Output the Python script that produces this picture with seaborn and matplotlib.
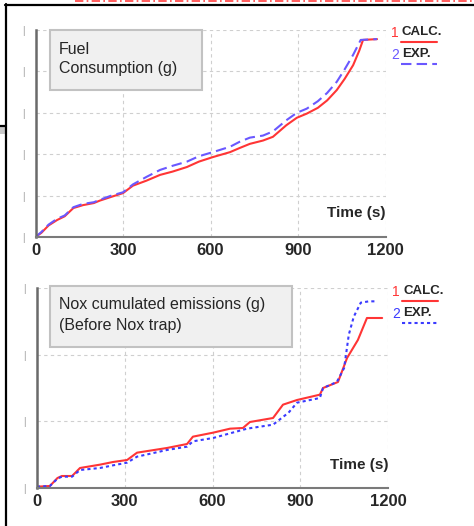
import matplotlib
matplotlib.use("Agg")
import matplotlib.pyplot as plt
from matplotlib.lines import Line2D
from matplotlib.patches import Rectangle
import seaborn as sns
import pandas as pd

# ---------------- data ----------------
fuel_calc_t = [0, 20, 45, 74, 100, 130, 163, 200, 221, 260, 300, 334, 380, 427, 470, 519, 560, 608,
               667, 700, 735, 780, 814, 860, 896, 930, 968, 1000, 1033, 1060, 1089, 1110, 1123, 1171]
fuel_calc_y = [0, 0.10, 0.28, 0.41, 0.50, 0.70, 0.77, 0.82, 0.88, 0.97, 1.06, 1.24, 1.36, 1.50, 1.58, 1.69, 1.82, 1.93,
               2.05, 2.15, 2.25, 2.33, 2.42, 2.70, 2.88, 2.98, 3.12, 3.30, 3.55, 3.82, 4.15, 4.50, 4.76, 4.78]
fuel_exp_t = [0, 20, 45, 74, 100, 130, 163, 200, 221, 260, 300, 334, 380, 427, 470, 519, 560, 608,
              667, 700, 735, 780, 814, 860, 896, 930, 968, 1000, 1033, 1060, 1089, 1115, 1171]
fuel_exp_y = [0, 0.12, 0.30, 0.44, 0.52, 0.72, 0.80, 0.84, 0.90, 1.00, 1.08, 1.27, 1.45, 1.62, 1.72, 1.82, 1.95, 2.05,
              2.18, 2.30, 2.40, 2.45, 2.55, 2.82, 3.00, 3.10, 3.28, 3.48, 3.75, 4.05, 4.40, 4.76, 4.78]

nox_calc_t = [0, 44, 70, 85, 120, 147, 215, 260, 308, 342, 444, 513, 533, 602, 660, 704, 728, 807,
              841, 889, 967, 978, 1029, 1060, 1097, 1128, 1180]
nox_calc_y = [0.02, 0.03, 0.15, 0.18, 0.18, 0.30, 0.35, 0.39, 0.42, 0.53, 0.60, 0.66, 0.77, 0.83, 0.89, 0.90, 0.99, 1.05,
              1.25, 1.32, 1.40, 1.50, 1.59, 1.95, 2.22, 2.55, 2.55]
nox_exp_t = [0, 44, 70, 85, 120, 147, 215, 260, 308, 342, 444, 513, 533, 602, 660, 718, 807, 860,
             889, 967, 978, 1025, 1050, 1066, 1083, 1107, 1135, 1163]
nox_exp_y = [0.02, 0.03, 0.14, 0.17, 0.17, 0.27, 0.30, 0.34, 0.38, 0.47, 0.57, 0.62, 0.70, 0.75, 0.82, 0.89, 0.95, 1.13,
             1.28, 1.35, 1.50, 1.59, 1.80, 2.30, 2.57, 2.78, 2.80, 2.80]

x_ticks = [0, 300, 600, 900, 1200]
x_labels = ["0", "300", "600", "900", "1200"]
series_labels = ["CALC.", "EXP."]
titles = ["Fuel\nConsumption (g)", "Nox cumulated emissions (g)\n(Before Nox trap)"]
xlabel = "Time (s)"

# ---------------- style ----------------
sns.set_style("white")
plt.rcParams["font.family"] = ["Liberation Sans", "DejaVu Sans"]

W, H = 474, 526
fig = plt.figure(figsize=(W / 100, H / 100), dpi=100)


def fx(x):
    return x / W


def fy(y):
    return 1 - y / H


RED = "#ff3535"
BLUE1 = "#6a58ff"
BLUE2 = "#3b3bff"


def make_axes(l, r, t, b):
    return fig.add_axes([fx(l), fy(b), fx(r) - fx(l), fy(t) - fy(b)])


ax1 = make_axes(35.5, 385.5, 30, 237)
ax2 = make_axes(37, 388, 288, 488)

df1 = pd.concat([
    pd.DataFrame({"t": fuel_calc_t, "v": fuel_calc_y, "s": series_labels[0]}),
    pd.DataFrame({"t": fuel_exp_t, "v": fuel_exp_y, "s": series_labels[1]}),
])
df2 = pd.concat([
    pd.DataFrame({"t": nox_calc_t, "v": nox_calc_y, "s": series_labels[0]}),
    pd.DataFrame({"t": nox_exp_t, "v": nox_exp_y, "s": series_labels[1]}),
])

sns.lineplot(data=df1, x="t", y="v", hue="s", style="s",
             palette={series_labels[0]: RED, series_labels[1]: BLUE1},
             dashes={series_labels[0]: "", series_labels[1]: (5, 2.5)},
             linewidth=1.5, ax=ax1, legend=False, sort=False, estimator=None)
sns.lineplot(data=df2, x="t", y="v", hue="s", style="s",
             palette={series_labels[0]: RED, series_labels[1]: BLUE2},
             dashes={series_labels[0]: "", series_labels[1]: (1.5, 1.5)},
             linewidth=1.5, ax=ax2, legend=False, sort=False, estimator=None)

for ax, ymax in [(ax1, 5), (ax2, 3)]:
    ax.set_xlim(0, 1200)
    ax.set_ylim(0, ymax)
    ax.set_xticks(x_ticks)
    ax.set_xticklabels(x_labels, fontsize=12, fontweight="bold")
    ax.set_yticks(range(0, ymax + 1))
    ax.set_yticklabels(["|"] * (ymax + 1), fontsize=7, color="#9a9a9a")
    ax.tick_params(axis="y", length=0, pad=8)
    ax.tick_params(axis="x", length=0, pad=4)
    ax.set_xlabel("")
    ax.set_ylabel("")
    ax.grid(True, color="#cfcfcf", linestyle=(0, (3, 3)), linewidth=0.8)
    for sp in ["top", "right"]:
        ax.spines[sp].set_visible(False)
    ax.spines["left"].set_color("#6a6a6a")
    ax.spines["left"].set_linewidth(1.8)
    ax.spines["bottom"].set_color("#7a7a7a")
    ax.spines["bottom"].set_linewidth(1.5)
    ax.set_axisbelow(True)
    ax.minorticks_on()
    ax.tick_params(axis="y", which="minor", length=2, width=1, color="#6a6a6a", direction="in")
    ax.tick_params(axis="x", which="minor", length=0)
    ax.text(1.0, 0.08, xlabel, transform=ax.transAxes, ha="right", va="bottom",
            fontsize=11, fontweight="bold")

from matplotlib.ticker import AutoMinorLocator
ax1.yaxis.set_minor_locator(AutoMinorLocator(5))
ax2.yaxis.set_minor_locator(AutoMinorLocator(8))

# title boxes
fig.add_artist(Rectangle((fx(50), fy(90)), fx(202) - fx(50), fy(30) - fy(90),
                         transform=fig.transFigure, facecolor="#f0f0f0", edgecolor="#c2c2c2", lw=1.5))
fig.text(fx(59), fy(59), titles[0], fontsize=11.5, ha="left", va="center", linespacing=1.35)
fig.add_artist(Rectangle((fx(50), fy(347)), fx(292) - fx(50), fy(286) - fy(347),
                         transform=fig.transFigure, facecolor="#f0f0f0", edgecolor="#c2c2c2", lw=1.5))
fig.text(fx(59), fy(315), titles[1], fontsize=11.5, ha="left", va="center", linespacing=1.45)

# legends
def legend(x0, y1, y2, blue, dash):
    fig.text(fx(x0), fy(y1), "1", color=RED, fontsize=10, ha="left", va="center")
    fig.text(fx(x0 + 11), fy(y1 - 1), series_labels[0], fontsize=9.5, fontweight="bold", ha="left", va="center")
    fig.add_artist(Line2D([fx(x0 + 10), fx(x0 + 46)], [fy(y1 + 9), fy(y1 + 9)], color=RED, lw=1.5,
                          transform=fig.transFigure))
    fig.text(fx(x0), fy(y2), "2", color=blue, fontsize=10, ha="left", va="center")
    fig.text(fx(x0 + 11), fy(y2 - 1), series_labels[1], fontsize=9.5, fontweight="bold", ha="left", va="center")
    fig.add_artist(Line2D([fx(x0 + 10), fx(x0 + 46)], [fy(y2 + 9), fy(y2 + 9)], color=blue, lw=1.5,
                          linestyle=dash, transform=fig.transFigure))


legend(391, 33, 55, BLUE1, (0, (5, 2.5)))
legend(392, 292, 314, BLUE2, (0, (1.5, 1.5)))

# scan frame decorations
fig.add_artist(Line2D([fx(5.5), fx(5.5)], [fy(4), fy(526)], color="black", lw=1.6, transform=fig.transFigure))
fig.add_artist(Line2D([fx(5), fx(474)], [fy(4.5), fy(4.5)], color="black", lw=1.6, transform=fig.transFigure))
fig.add_artist(Line2D([fx(0), fx(5)], [fy(126), fy(126)], color="black", lw=1.6, transform=fig.transFigure))
fig.add_artist(Rectangle((fx(0), fy(134)), fx(5), fy(127) - fy(134), transform=fig.transFigure,
                         facecolor="#c8c8c8", edgecolor="none"))
fig.add_artist(Line2D([fx(75), fx(474)], [fy(1), fy(1)], color="#ff4040", lw=1.2,
                      linestyle=(0, (5, 2, 1, 2)), transform=fig.transFigure))

fig.savefig("out.png", dpi=100)
